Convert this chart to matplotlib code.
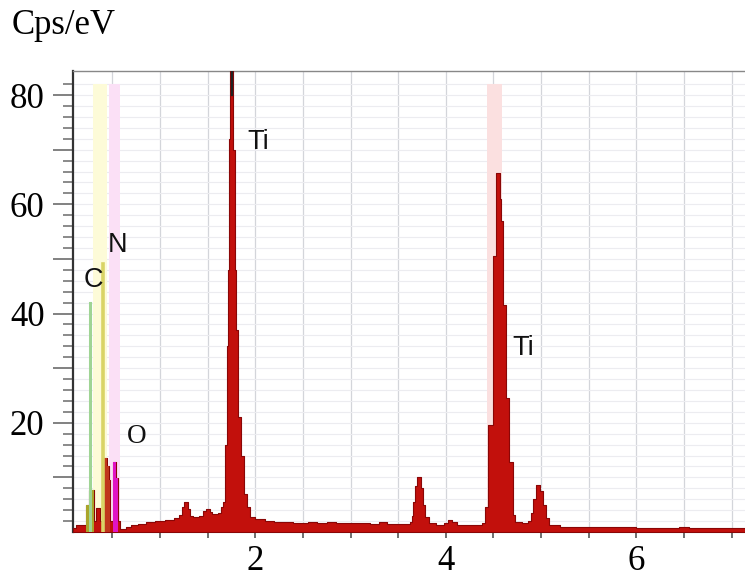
import matplotlib
matplotlib.use("Agg")
import matplotlib.pyplot as plt
import numpy as np

# EDS spectrum: bin start energy (keV) and count rate (cps/eV)
energy = [0.09, 0.12, 0.18, 0.22, 0.25, 0.31, 0.33, 0.37, 0.40, 0.44, 0.46, 0.48,
          0.51, 0.54, 0.56, 0.58, 0.64, 0.70, 0.77, 0.85, 0.95, 1.05, 1.15, 1.20,
          1.23, 1.25, 1.29, 1.31, 1.35, 1.41, 1.45, 1.48, 1.52, 1.55, 1.61, 1.64,
          1.66, 1.68, 1.70, 1.71, 1.72, 1.73, 1.77, 1.79, 1.80, 1.82, 1.85, 1.88,
          1.91, 1.94, 2.00, 2.10, 2.20, 2.40, 2.55, 2.65, 2.75, 2.85, 3.00, 3.20,
          3.30, 3.38, 3.55, 3.62, 3.64, 3.66, 3.68, 3.70, 3.74, 3.76, 3.78, 3.82,
          3.90, 3.98, 4.02, 4.07, 4.12, 4.30, 4.38, 4.41, 4.44, 4.49, 4.53, 4.57,
          4.58, 4.60, 4.63, 4.66, 4.70, 4.73, 4.80, 4.86, 4.89, 4.92, 4.95, 4.99,
          5.02, 5.05, 5.08, 5.20, 5.50, 6.00, 6.30, 6.45, 6.55, 7.00, 7.14]
counts = [0.8, 1.3, 1.2, 4.9, 7.7, 2.0, 4.4, 2.0, 13.5, 12.0, 9.5, 2.0,
          12.8, 9.9, 2.0, 0.6, 0.9, 1.2, 1.5, 1.8, 2.0, 2.2, 2.6, 3.2,
          4.5, 5.5, 4.2, 2.9, 2.7, 3.0, 3.8, 4.2, 3.7, 3.3, 3.5, 4.6,
          5.5, 16.0, 34.0, 48.0, 72.0, 95.0, 70.0, 48.0, 37.0, 21.0, 14.0, 7.0,
          4.5, 2.8, 2.4, 2.0, 1.8, 1.7, 1.9, 1.7, 1.9, 1.6, 1.6, 1.5,
          1.8, 1.5, 1.4, 1.9, 3.0, 5.5, 8.5, 10.1, 8.0, 5.0, 2.8, 1.6,
          1.3, 1.6, 2.2, 1.8, 1.3, 1.2, 1.6, 4.6, 19.6, 50.5, 65.8, 61.0,
          57.0, 41.5, 24.5, 12.8, 3.1, 1.8, 1.6, 2.0, 3.5, 6.0, 8.6, 7.5,
          5.0, 2.5, 1.3, 1.0, 0.9, 0.8, 0.8, 0.9, 0.8, 0.7, 0.7]

# Element markers: line energy and marker height
c_line = (0.27, 42.0)
n_line = (0.40, 49.0)
ti_marker = 1.755
labels = ["C", "N", "O", "Ti", "Ti"]
label_x = [0.30, 0.55, 0.76, 2.03, 4.81]
label_y = [46.2, 52.6, 17.4, 71.4, 33.7]

# Highlighted energy windows (ROI bands)
bands = [(0.30, 0.44, "#fdfbd8"), (0.46, 0.58, "#fbe0f6"), (4.43, 4.59, "#fbe0e0")]
band_top = 82.0

# Coloured sub-ranges of the spectrum
segments = [(0.22, 0.31, "#a9a52a"), (0.40, 0.48, "#c0361c"), (0.51, 0.56, "#e014c4")]

fig = plt.figure(figsize=(7.45, 5.77), dpi=100)
ax = fig.add_axes([73 / 745, 1 - 532 / 577, (745 - 73) / 745, (532 - 71) / 577])

ax.set_xlim(0.087, 7.14)
ax.set_ylim(0, 84.4)

for lo, hi, col in bands:
    ax.fill_between([lo, hi], 0, band_top, color=col, zorder=1, lw=0)

e = np.array(energy)
c = np.array(counts)
ax.fill_between(e, 0, c, step="post", color="#c2100c", edgecolor="#8a0606",
                linewidth=0.8, zorder=3)

for lo, hi, col in segments:
    idx = np.where((e >= lo - 1e-9) & (e < hi - 1e-9))[0]
    xs = list(e[idx]) + [e[idx[-1] + 1]]
    ys = list(c[idx]) + [c[idx[-1]]]
    ax.fill_between(xs, 0, ys, step="post", color=col, linewidth=0, zorder=4)

ax.plot([c_line[0], c_line[0]], [0, c_line[1]], color="#9fd494", lw=2.2, zorder=5)
ax.plot([n_line[0], n_line[0]], [0, n_line[1]], color="#d9d466", lw=2.6, zorder=5)
ax.plot([ti_marker, ti_marker], [80, 84.4], color="#222222", lw=1.6, zorder=5)

for txt, x, y in zip(labels, label_x, label_y):
    fam = "Liberation Serif" if txt == "O" else "Liberation Sans"
    ax.text(x, y, txt, ha="center", va="center", fontsize=19.5, family=fam,
            color="#111111", zorder=6)

# Ticks and grid
ax.set_xticks([2, 4, 6])
ax.set_xticks(np.arange(0.5, 7.01, 0.5), minor=True)
ax.set_yticks([10, 20, 30, 40, 50, 60, 70, 80])
ax.set_yticks(np.arange(2, 84, 2), minor=True)
ax.set_yticklabels(["", "20", "", "40", "", "60", "", "80"])
ax.set_xticklabels(["2", "4", "6"])
ax.grid(True, which="both", axis="x", color="#d3d5da", lw=0.9, zorder=0)
ax.grid(True, which="both", axis="y", color="#ececf0", lw=0.8, zorder=0)
ax.set_axisbelow(True)

ax.tick_params(axis="y", which="major", length=14.5, width=1.3, color="#777777",
               pad=6, labelsize=25)
ax.tick_params(axis="y", which="minor", length=7, width=1.2, color="#777777")
ax.tick_params(axis="x", which="both", length=4, width=1.2, color="#555555",
               pad=5, labelsize=25)
for lab in ax.get_xticklabels() + ax.get_yticklabels():
    lab.set_family("Liberation Serif")

ax.spines["left"].set_color("#333333")
ax.spines["left"].set_linewidth(1.6)
ax.spines["top"].set_color("#888888")
ax.spines["top"].set_linewidth(1.0)
ax.spines["bottom"].set_color("#666666")
ax.spines["right"].set_visible(False)

fig.text(12 / 745, 1 - 25 / 577, "Cps/eV", ha="left", va="center",
         fontsize=25, family="Liberation Serif")

fig.savefig("out.png", dpi=100)
